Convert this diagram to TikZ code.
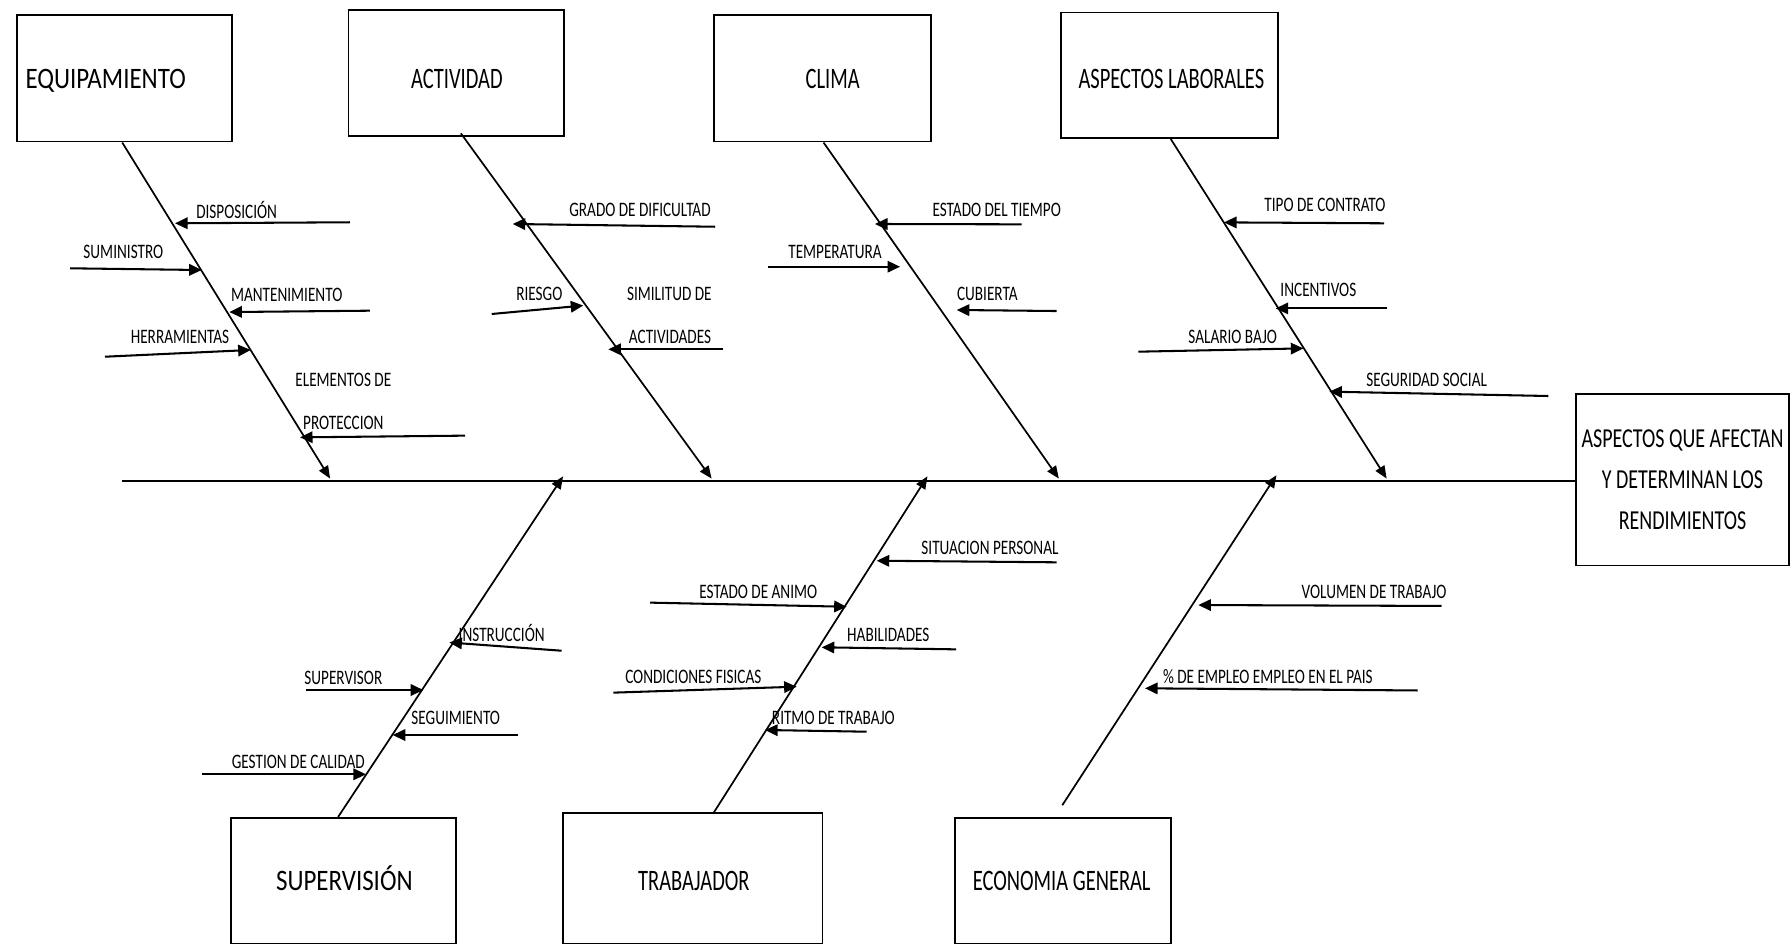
\documentclass[tikz,border=0pt]{standalone}
\usepackage{fontspec}
\setmainfont{Carlito}
\usetikzlibrary{arrows.meta}
\newfontfamily\labfont[FakeStretch=0.74]{Carlito}
\newfontfamily\titfont[FakeStretch=0.84]{Carlito}
\newfontfamily\titfontn[FakeStretch=0.69]{Carlito}
\newfontfamily\efffont[FakeStretch=0.73]{Carlito}
% shift the ink of a text: right by #1, down by #2
\newcommand\shiftxt[3]{\hspace*{#1}\raisebox{-#2}{#3}\hspace*{-#1}}
\tikzset{
 box/.style={draw, line width=1.5pt, inner sep=0pt, text height=16.5pt, text depth=0pt,
   font=\titfont\fontsize{26}{30}\selectfont},
 boxn/.style={box, font=\titfontn\fontsize{26}{30}\selectfont},
 lab/.style={inner sep=0pt, font=\labfont\fontsize{18}{20}\selectfont},
 bone/.style={line width=1.5pt, -{Triangle[length=11pt,width=9pt]}},
 sub/.style={line width=1.8pt, -{Triangle[length=11pt,width=10pt]}},
 spine/.style={line width=1.7pt}
}
\begin{document}
\begin{tikzpicture}[x=1pt,y=-1pt]
\useasboundingbox (0,0) rectangle (1568,826);
% boxes
\node[box, minimum width=188pt, minimum height=111pt] (eq) at (109,68.5) {\shiftxt{-16.5pt}{0.5pt}{EQUIPAMIENTO}};
\node[boxn, minimum width=189pt, minimum height=110pt] (act) at (399.5,64) {\shiftxt{0.5pt}{5pt}{ACTIVIDAD}};
\node[boxn, minimum width=190pt, minimum height=111pt] (cli) at (720,68.5) {\shiftxt{9pt}{0.5pt}{CLIMA}};
\node[boxn, minimum width=190pt, minimum height=110pt] (asp) at (1024,66) {\shiftxt{1.5pt}{3pt}{ASPECTOS LABORALES}};
\node[draw, line width=1.5pt, inner sep=0pt, minimum width=187pt, minimum height=150pt, align=center, font=\efffont\fontsize{24}{35.5}\selectfont] (eff) at (1473,420) {ASPECTOS QUE AFECTAN\\Y DETERMINAN LOS\\RENDIMIENTOS};
\node[box, minimum width=197pt, minimum height=110pt] (sup) at (300.5,771) {\shiftxt{1pt}{0pt}{SUPERVISIÓN}};
\node[boxn, minimum width=227pt, minimum height=114pt] (tra) at (606.5,769) {\shiftxt{1pt}{2pt}{TRABAJADOR}};
\node[boxn, minimum width=189pt, minimum height=110pt] (eco) at (930.5,771) {\shiftxt{-1pt}{0pt}{ECONOMIA GENERAL}};
% spine
\coordinate (tail) at (107,421);
\draw[spine] (tail) -- (eff.west |- tail);
% bone end points on spine
\coordinate (eqS) at (289,419);
\coordinate (actS) at (623,419);
\coordinate (cliS) at (927,419);
\coordinate (aspS) at (1214,419);
\coordinate (supS) at (493,417);
\coordinate (traS) at (812,417);
\coordinate (ecoS) at (1117.5,416);
\coordinate (ecoB) at (930,705);
\draw[bone] ([xshift=-2pt]eq.south) -- (eqS);
\draw[bone] ([xshift=4pt,yshift=3pt]act.south) -- (actS);
\draw[bone] ([xshift=1pt]cli.south) -- (cliS);
\draw[bone] ([xshift=1pt]asp.south) -- (aspS);
\draw[bone] ([xshift=-4.5pt]sup.north) -- (supS);
\draw[bone] ([xshift=18.5pt]tra.north) -- (traS);
\draw[bone] (ecoB) -- (ecoS);
% ---- EQUIPAMIENTO causes
\coordinate (e1a) at (306.4,194.6); \coordinate (e1b) at (153.2,195.5);
\coordinate (e2a) at (61.3,234.9);  \coordinate (e2b) at (176.6,236.4);
\coordinate (e3a) at (323.9,272);   \coordinate (e3b) at (200.8,273.2);
\coordinate (e4a) at (91.9,312.3);  \coordinate (e4b) at (219.5,306.4);
\coordinate (e5a) at (407.1,381.4); \coordinate (e5b) at (262.6,382.9);
\foreach \i in {1,...,5} {\draw[sub] (e\i a) -- (e\i b);}
\node[lab] (le1) at (207.2,183.9) {DISPOSICIÓN};
\node[lab] (le2) at (108,220.3) {SUMINISTRO};
\node[lab] (le3) at (251,258.3) {MANTENIMIENTO};
\node[lab] (le4) at (157.6,294.7) {HERRAMIENTAS};
\node[lab] (le5) at (300.6,332.7) {ELEMENTOS DE};
\node[lab] (le6) at (300.6,370.6) {PROTECCION};
% ---- ACTIVIDAD causes
\coordinate (a1a) at (626,198.5);   \coordinate (a1b) at (448.8,196.1);
\coordinate (a2a) at (430.5,274.9); \coordinate (a2b) at (510.7,267.5);
\coordinate (a3a) at (633.3,305.8); \coordinate (a3b) at (532.6,305.8);
\foreach \i in {1,2,3} {\draw[sub] (a\i a) -- (a\i b);}
\node[lab] (la1) at (560.3,183.9) {GRADO DE DIFICULTAD};
\node[lab] (la2) at (472.2,257.7) {RIESGO};
\node[lab] (la3) at (586,257.7) {SIMILITUD DE};
\node[lab] (la4) at (586.6,294.8) {ACTIVIDADES};
% ---- CLIMA causes
\coordinate (c1a) at (894.5,196.4); \coordinate (c1b) at (766,196.1);
\coordinate (c2a) at (672,233.5);   \coordinate (c2b) at (788,233.5);
\coordinate (c3a) at (925.1,272.3); \coordinate (c3b) at (837.6,271.4);
\foreach \i in {1,2,3} {\draw[sub] (c\i a) -- (c\i b);}
\node[lab] (lc1) at (872.6,183.9) {ESTADO DEL TIEMPO};
\node[lab] (lc2) at (731,221) {TEMPERATURA};
\node[lab] (lc3) at (864.4,257.7) {CUBIERTA};
% ---- ASPECTOS LABORALES causes
\coordinate (l1a) at (1211.7,195.5); \coordinate (l1b) at (1071.6,194.7);
\coordinate (l2a) at (1214.6,270);   \coordinate (l2b) at (1116.8,270);
\coordinate (l3a) at (996.6,307.9);  \coordinate (l3b) at (1141.1,305);
\coordinate (l4a) at (1355.6,346.7); \coordinate (l4b) at (1163.8,342.9);
\foreach \i in {1,...,4} {\draw[sub] (l\i a) -- (l\i b);}
\node[lab] (ll1) at (1160,179.5) {TIPO DE CONTRATO};
\node[lab] (ll2) at (1154.2,253.9) {INCENTIVOS};
\node[lab] (ll3) at (1079.2,294.8) {SALARIO BAJO};
\node[lab] (ll4) at (1249,332.7) {SEGURIDAD SOCIAL};
% ---- SUPERVISION causes
\coordinate (s1a) at (491.7,569.7); \coordinate (s1b) at (393.4,562.5);
\coordinate (s2a) at (267.9,604.1); \coordinate (s2b) at (370.6,604.1);
\coordinate (s3a) at (453.8,643.5); \coordinate (s3b) at (343.8,643.5);
\coordinate (s4a) at (176.6,677.9); \coordinate (s4b) at (320.4,677.9);
\foreach \i in {1,...,4} {\draw[sub] (s\i a) -- (s\i b);}
\node[lab] (ls1) at (439.2,554.5) {INSTRUCCIÓN};
\node[lab] (ls2) at (300.6,593.9) {SUPERVISOR};
\node[lab] (ls3) at (399,628.9) {SEGUIMIENTO};
\node[lab] (ls4) at (261.2,666.8) {GESTION DE CALIDAD};
% ---- TRABAJADOR causes
\coordinate (t1a) at (925,492.3);   \coordinate (t1b) at (767.5,490.9);
\coordinate (t2a) at (569.1,527.6); \coordinate (t2b) at (741.3,531.2);
\coordinate (t3a) at (837,568.5);   \coordinate (t3b) at (719.4,566.7);
\coordinate (t4a) at (537,606.4);   \coordinate (t4b) at (697.5,601.2);
\coordinate (t5a) at (758.8,640.6); \coordinate (t5b) at (669.8,639.1);
\foreach \i in {1,...,5} {\draw[sub] (t\i a) -- (t\i b);}
\node[lab] (lt1) at (866.7,480) {SITUACION PERSONAL};
\node[lab] (lt2) at (663.9,518) {ESTADO DE ANIMO};
\node[lab] (lt3) at (777.7,555.9) {HABILIDADES};
\node[lab] (lt4) at (607,592.4) {CONDICIONES FISICAS};
\node[lab] (lt5) at (729.6,628.9) {RITMO DE TRABAJO};
% ---- ECONOMIA causes
\coordinate (g1a) at (1262,530.5); \coordinate (g1b) at (1049.1,529.7);
\coordinate (g2a) at (1241,604.5); \coordinate (g2b) at (1002.4,602.6);
\foreach \i in {1,2} {\draw[sub] (g\i a) -- (g\i b);}
\node[lab] (lg1) at (1203,518) {VOLUMEN DE TRABAJO};
\node[lab] (lg2) at (1110,592.4) {\% DE EMPLEO EMPLEO EN EL PAIS};
\end{tikzpicture}
\end{document}
